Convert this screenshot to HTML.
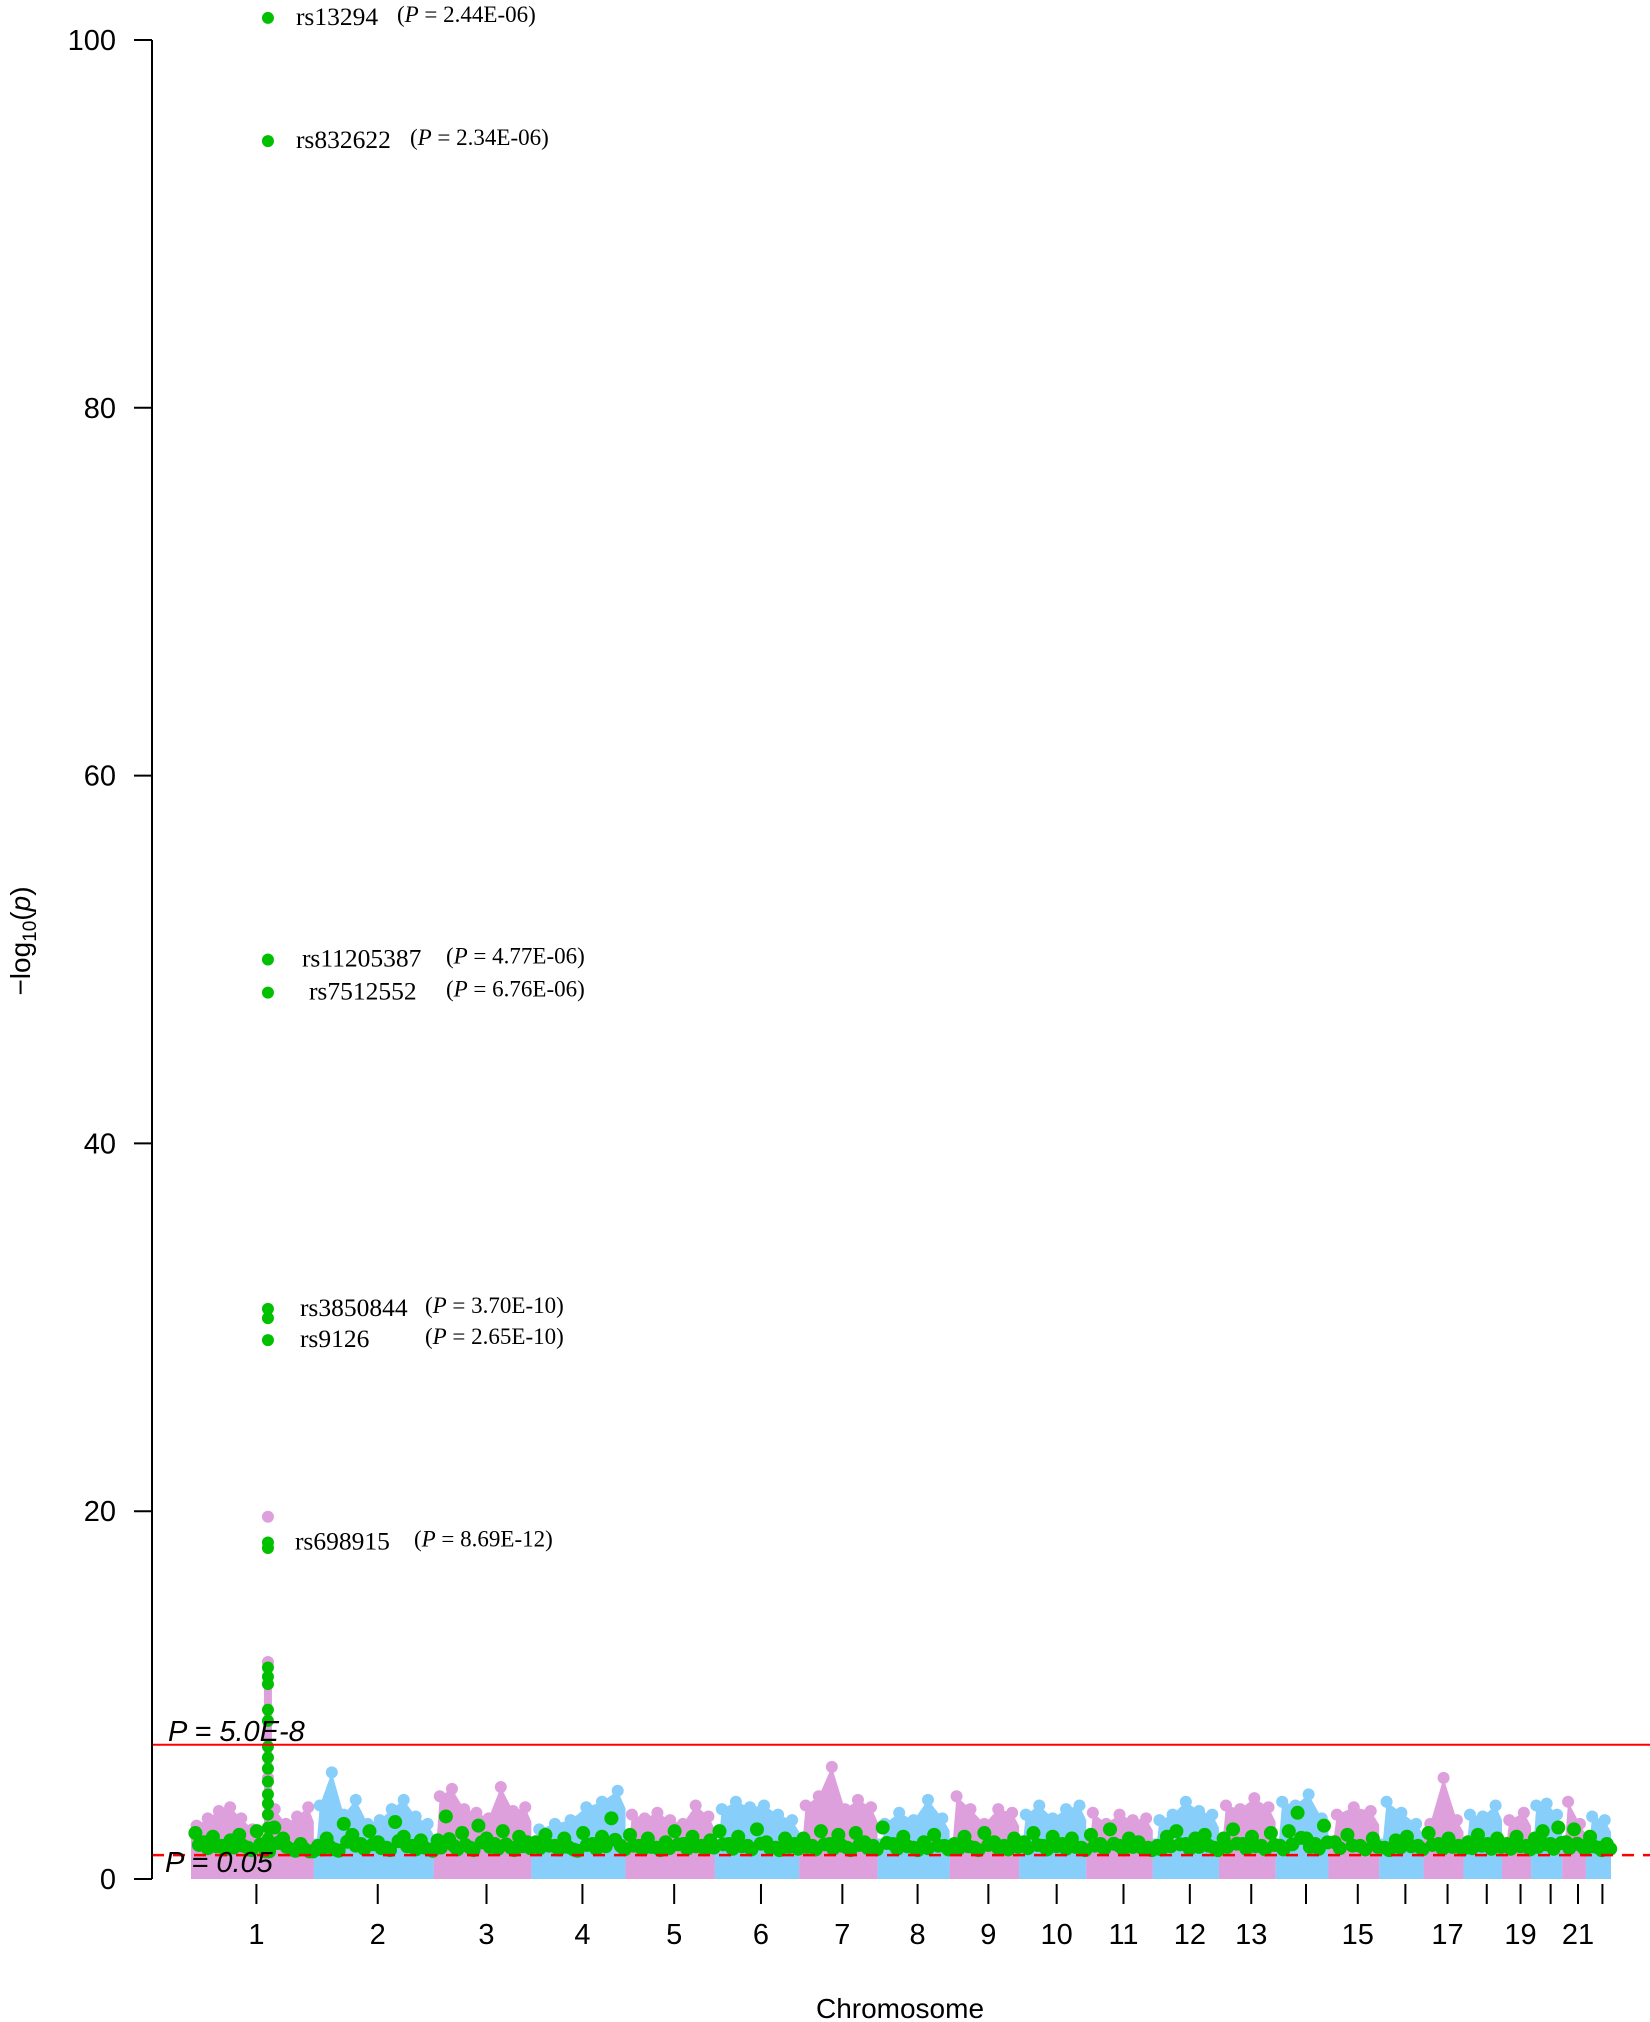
<!DOCTYPE html>
<html><head><meta charset="utf-8"><style>
html,body{margin:0;padding:0;background:#fff;}
svg{display:block;}
</style></head><body>
<svg id="chart" width="1650" height="2022" viewBox="0 0 1650 2022" xmlns="http://www.w3.org/2000/svg"></svg>
<script>
const chromosomes=["1","2","3","4","5","6","7","8","9","10","11","12","13","14","15","16","17","18","19","20","21","22"];
const chromLengths=[249,243,198,191,181,171,159,146,141,136,135,134,115,107,103,90,81,78,59,63,48,51];
const chromTickLabels=["1","2","3","4","5","6","7","8","9","10","11","12","13","","15","","17","","19","","21",""];
const yTicks=[0,20,40,60,80,100];
const envelope=[
[2.9,3.3,3.7,3.9,3.3,2.7,2.0,3.8,3.0,3.4,3.9],
[4.0,5.8,3.5,4.3,3.0,3.2,3.8,4.3,3.4,3.0],
[4.5,4.9,3.8,3.6,3.3,5.0,3.7,3.9],
[2.7,3.0,3.2,3.9,4.2,4.8],
[3.5,3.3,3.6,3.2,3.0,4.0,3.4],
[3.8,4.2,3.9,4.0,3.5,3.2],
[4.0,4.5,6.1,3.8,4.3,3.9],
[3.0,3.6,3.2,4.3,3.3],
[4.5,3.8,3.0,3.8,3.6],
[3.5,4.0,3.3,3.8,4.0],
[3.6,3.0,3.5,3.2,3.3],
[3.2,3.5,4.2,3.7,3.5],
[4.0,3.8,4.4,3.9],
[4.2,4.0,4.6,3.3],
[3.5,3.9,3.7],
[4.2,3.6,3.0],
[3.0,5.5,3.2],
[3.5,3.4,4.0],
[3.2,3.6],
[4.0,4.1,3.5],
[4.2,3.0],
[3.4,3.2]];
const greenPts=[
[2.5,2.0,2.3,1.8,2.1,2.4,1.7,2.6,1.5,2.8,2.2,1.6,1.9,1.5],
[1.8,2.2,1.6,3.0,2.4,1.9,2.6,2.0,1.7,3.1,2.3,1.8,2.1,1.6],
[2.1,3.4,1.8,2.5,1.7,2.9,2.2,1.9,2.6,1.7,2.3,2.0],
[2.0,2.4,1.8,2.2,1.6,2.5,1.9,2.3,3.3,1.8],
[2.4,1.8,2.2,1.7,2.0,2.6,1.9,2.3,1.8,2.1],
[2.6,1.9,2.3,1.8,2.7,2.0,1.7,2.2,1.9],
[2.2,1.8,2.6,1.9,2.4,1.7,2.5,2.0,1.8],
[2.8,1.9,2.3,1.7,2.0,2.4,1.8],
[1.9,2.3,1.7,2.5,2.0,1.8,2.2],
[2.0,2.5,1.8,2.3,1.9,2.2,1.7],
[2.4,1.9,2.7,1.8,2.2,2.0,1.7],
[1.8,2.3,2.6,1.9,2.2,2.4,1.7],
[2.2,2.7,1.9,2.3,1.8,2.5],
[1.8,2.6,3.6,2.2,1.9,2.9],
[2.0,2.4,1.8,2.2],
[1.7,2.1,2.3,1.8],
[2.5,1.9,2.2,1.8],
[2.0,2.4,1.9,2.2],
[1.9,2.3,1.8],
[2.2,2.6,1.9,2.8],
[2.0,2.7,1.8],
[2.3,1.7,1.9]];
const spikeChrom=0;
const spikePos=156;
const spikeGreen=[101.2,94.5,50.0,48.2,31.0,30.5,29.3,18.3,18.0,11.5,11.0,10.6,9.2,8.6,7.2,6.6,6.0,5.3,4.6,4.1,3.5,2.8,2.2,1.6];
const spikePink=[19.7,11.8,5.5];
const snpNames=["rs13294","rs832622","rs11205387","rs7512552","rs3850844","rs9126","rs698915"];
const snpValues=[101.2,94.5,50.0,48.2,31.0,29.3,18.3];
const snpP=["2.44E-06","2.34E-06","4.77E-06","6.76E-06","3.70E-10","2.65E-10","8.69E-12"];
const snpNameDx=[28,28,34,41,32,32,27];
const snpPDx=[129,142,178,178,157,157,146];
const sigLine=7.3, sugLine=1.3;

const svg=document.getElementById('chart');
const NS='http://www.w3.org/2000/svg';
const X0=191, X1=1611, Y0=1879, Y100=40, AXX=152;
const total=chromLengths.reduce((a,b)=>a+b,0);
const starts=[];let acc=0;for(const l of chromLengths){starts.push(acc);acc+=l;}
function xScale(ci,mb){return X0+(starts[ci]+mb)/total*(X1-X0);}
function yScale(v){return Y0-v*(Y0-Y100)/100;}
function el(tag,attrs,parent){const e=document.createElementNS(NS,tag);for(const k in attrs)e.setAttribute(k,attrs[k]);(parent||svg).appendChild(e);return e;}
const PINK='#dda0dd',BLUE='#87cefa',GREEN='#00c000';

chromosomes.forEach((c,i)=>{
  const col=i%2===0?PINK:BLUE;
  const g=el('g',{});
  
  
  const env=envelope[i];const n=env.length;
  let d='M'+xScale(i,0)+','+Y0;
  env.forEach((v,j)=>{const mb=chromLengths[i]*(j+0.5)/n;d+=' L'+xScale(i,mb).toFixed(1)+','+yScale(v).toFixed(1);});
  d+=' L'+xScale(i,chromLengths[i])+','+yScale(env[n-1]*0.8)+' L'+xScale(i,chromLengths[i])+','+Y0+' Z';
  el('path',{d:d,fill:col},g);
  el('rect',{x:xScale(i,0),y:yScale(2.2),width:xScale(i,chromLengths[i])-xScale(i,0),height:Y0-yScale(2.2),fill:col},g);
  env.forEach((v,j)=>{const mb=chromLengths[i]*(j+0.5)/n;
    const p=el('circle',{cx:xScale(i,mb),cy:yScale(v),r:6,fill:col},g);
    
    
  });
});
spikePink.forEach(v=>{const p=el('circle',{cx:xScale(spikeChrom,spikePos),cy:yScale(v),r:6,fill:PINK});
  
  });
el('rect',{x:xScale(spikeChrom,spikePos)-4,y:yScale(12),width:8,height:yScale(2)-yScale(12),fill:PINK});
greenPts.forEach((arr,i)=>{const n=arr.length;arr.forEach((v,j)=>{const mb=chromLengths[i]*(j+0.5)/n;
  const p=el('circle',{cx:xScale(i,mb),cy:yScale(v),r:7,fill:GREEN});
  
  
  const q=el('circle',{cx:xScale(i,mb+chromLengths[i]/n*0.4),cy:yScale(1.5+(v-1.5)*0.35),r:7,fill:GREEN});
  
  
});});
spikeGreen.forEach(v=>{const p=el('circle',{cx:xScale(spikeChrom,spikePos),cy:yScale(v),r:6,fill:GREEN});
  
  });

const sl=el('line',{x1:AXX,x2:1650,y1:yScale(sigLine),y2:yScale(sigLine),stroke:'#ff0000','stroke-width':2});


const dl=el('line',{x1:AXX,x2:1650,y1:yScale(sugLine),y2:yScale(sugLine),stroke:'#ff0000','stroke-width':2.5,'stroke-dasharray':'12,9'});


function txt(s,attrs,name){const t=el('text',attrs);t.textContent=s;return t;}
txt('P = 5.0E-8',{x:168,y:1741,'font-family':'Liberation Sans, sans-serif','font-size':29,'font-style':'italic',fill:'#000'},'significance-label');
txt('P = 0.05',{x:165,y:1872,'font-family':'Liberation Sans, sans-serif','font-size':29,'font-style':'italic',fill:'#000'},'nominal-label');

const ya=el('line',{x1:AXX,x2:AXX,y1:yScale(100),y2:Y0,stroke:'#000','stroke-width':2});


yTicks.forEach(v=>{el('line',{x1:AXX-18,x2:AXX,y1:yScale(v),y2:yScale(v),stroke:'#000','stroke-width':2});
  txt(String(v),{x:116,y:yScale(v)+10,'text-anchor':'end','font-family':'Liberation Sans, sans-serif','font-size':29,fill:'#000'},'y-tick-label');});
const yt=el('text',{x:0,y:0,transform:'translate(30,941) rotate(-90)','text-anchor':'middle','font-family':'Liberation Sans, sans-serif','font-size':28,fill:'#000'});
yt.innerHTML='−log<tspan font-size="19" dy="6">10</tspan><tspan dy="-6">(</tspan><tspan font-style="italic">p</tspan>)';



chromosomes.forEach((c,i)=>{const x=xScale(i,chromLengths[i]/2)+4;
  el('line',{x1:x,x2:x,y1:1884,y2:1904,stroke:'#000','stroke-width':2});
  if(chromTickLabels[i]) txt(chromTickLabels[i],{x:x,y:1944,'text-anchor':'middle','font-family':'Liberation Sans, sans-serif','font-size':29,fill:'#000'},'x-tick-label');
});
txt('Chromosome',{x:900,y:2018,'text-anchor':'middle','font-family':'Liberation Sans, sans-serif','font-size':28,fill:'#000'},'x-axis-title');

const lx=xScale(spikeChrom,spikePos);
snpNames.forEach((n,i)=>{const y=yScale(snpValues[i])+7;
  txt(n,{x:lx+snpNameDx[i],y:y,'font-family':'Liberation Serif, serif','font-size':25.5,fill:'#000'},'snp-label');
  const t=el('text',{x:lx+snpPDx[i],y:y-3,'font-family':'Liberation Serif, serif','font-size':23,fill:'#000'});
  t.innerHTML='(<tspan font-style="italic">P</tspan> = '+snpP[i]+')';
  
  
});
</script>
</body></html>
